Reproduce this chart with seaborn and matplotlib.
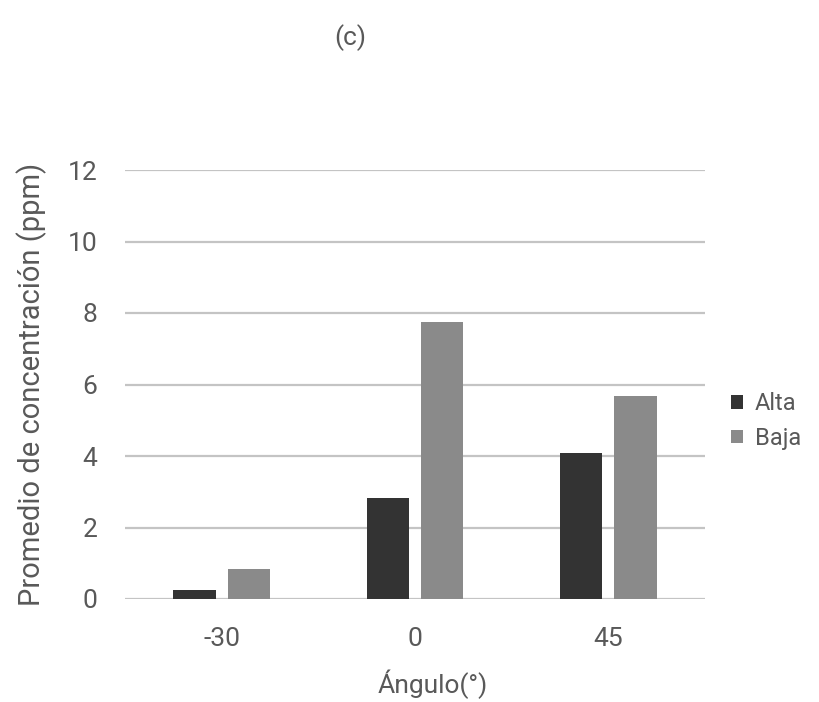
import pandas as pd
import matplotlib.pyplot as plt
import seaborn as sns

# values
angles = ['-30', '0', '45']
alta = [0.26, 2.82, 4.09]
baja = [0.85, 7.76, 5.69]
series = ['Alta', 'Baja']
yticks = [0, 2, 4, 6, 8, 10, 12]

data = pd.DataFrame({
    'Angulo': angles * 2,
    'Valor': alta + baja,
    'Serie': ['Alta'] * len(angles) + ['Baja'] * len(angles),
})

sns.set_style('white')
plt.rcParams['font.family'] = ['Roboto', 'DejaVu Sans']
text_color = '#595959'
fs = 19

fig = plt.figure(figsize=(8.2, 7.02), dpi=100)
ax = fig.add_axes([125 / 820, 1 - 599 / 702, 580 / 820, 429 / 702])

sns.barplot(data=data, x='Angulo', y='Valor', hue='Serie', order=angles,
            hue_order=series, palette=['#333333', '#8a8a8a'],
            width=0.56, gap=0.22, saturation=1, linewidth=0, ax=ax, legend=True)

ax.set_ylim(0, 12)
ax.set_xlim(-0.5, 2.5)
ax.set_yticks(yticks)
ax.set_yticklabels([str(t) for t in yticks])
ax.yaxis.grid(True, color='#c4c4c4', linewidth=1.6)
ax.set_axisbelow(True)
for side in ['top', 'right', 'left', 'bottom']:
    ax.spines[side].set_visible(False)
ax.tick_params(axis='both', length=0, labelsize=fs, colors=text_color)
ax.tick_params(axis='y', pad=20)
ax.tick_params(axis='x', pad=20)

ax.set_ylabel('Promedio de concentración (ppm)', fontsize=21, color=text_color)
ax.yaxis.set_label_coords(-0.135, 0.5)
ax.set_xlabel('Ángulo(°)', fontsize=fs, color=text_color)
ax.xaxis.set_label_coords(0.53, -0.165)

handles, labels = ax.get_legend_handles_labels()
ax.legend_.remove()
fig.legend(handles, labels, loc='center left', bbox_to_anchor=(0.892, 0.40),
           frameon=False, fontsize=17, handlelength=0.5, handleheight=0.5,
           handletextpad=0.5, labelspacing=0.5, labelcolor=text_color,
           borderaxespad=0, borderpad=0)

fig.text(350 / 820, 1 - 38 / 702, '(c)', ha='center', va='center',
         fontsize=fs, color=text_color)

fig.savefig('out.png', dpi=100)
plt.close(fig)
